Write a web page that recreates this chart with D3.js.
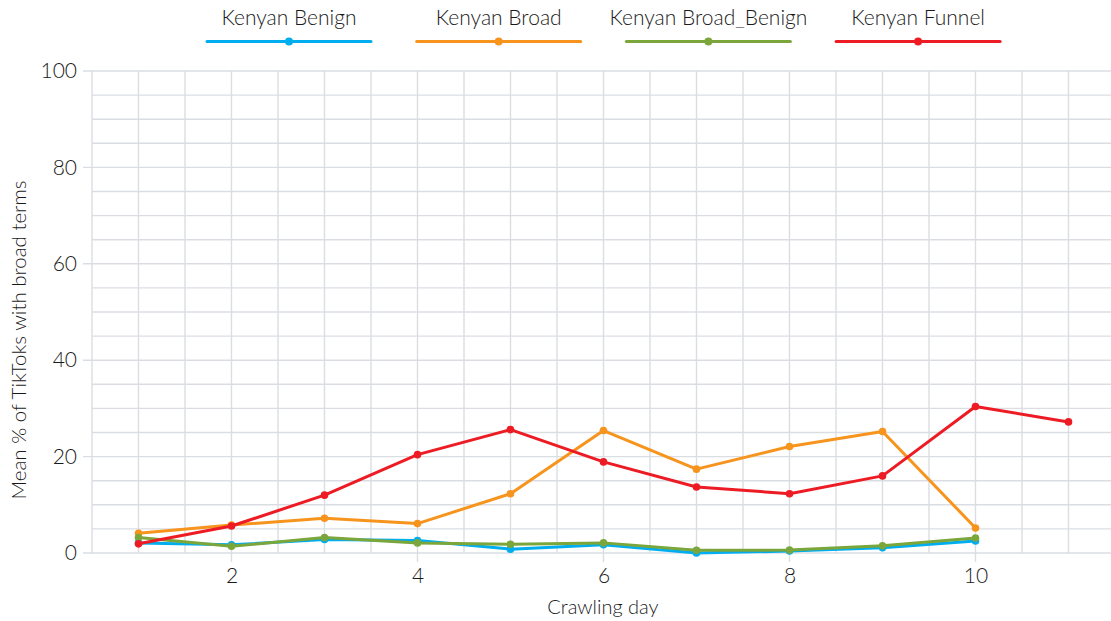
<!DOCTYPE html>
<html>
<head>
<meta charset="utf-8">
<script src="https://cdn.jsdelivr.net/npm/d3@7"></script>
<style>
  body { margin: 0; background: #fff; }
  svg text { font-family: Lato, "Open Sans", sans-serif; font-weight: 300; fill: #1a1a1a; }
</style>
</head>
<body>
<div id="chart"></div>
<script>
// Data
var days = [1, 2, 3, 4, 5, 6, 7, 8, 9, 10, 11];
var seriesNames = ["Kenyan Benign", "Kenyan Broad", "Kenyan Broad_Benign", "Kenyan Funnel"];
var seriesColors = ["#00aeef", "#f7941d", "#7ba63b", "#ed1c24"];
var benign = [2.1, 1.7, 2.8, 2.6, 0.8, 1.7, 0.0, 0.4, 1.1, 2.5];
var broad = [4.1, 5.8, 7.2, 6.1, 12.3, 25.4, 17.4, 22.1, 25.2, 5.2];
var broadBenign = [3.2, 1.4, 3.2, 2.1, 1.8, 2.1, 0.55, 0.6, 1.5, 3.1];
var funnel = [1.9, 5.6, 12.0, 20.4, 25.6, 18.9, 13.7, 12.3, 16.0, 30.4, 27.2];
var xTicks = [2, 4, 6, 8, 10];
var yTicks = [0, 20, 40, 60, 80, 100];

var allSeries = [benign, broad, broadBenign, funnel];

var svgWidth = 1111;
var svgHeight = 621;

var svg = d3.select("#chart")
    .append("svg")
    .attr("width", svgWidth)
    .attr("height", svgHeight);

var xScale = d3.scaleLinear().domain([0.5, 11.5]).range([92, 1115]);
var yScale = d3.scaleLinear().domain([0, 100]).range([553, 71]);

var gridColor = "#dadee3";
var grid = svg.append("g");

// Horizontal grid every 5, majors every 20 poke out to the left
d3.range(0, 101, 5).forEach(function (v) {
    grid.append("line")
        .attr("x1", v % 20 === 0 ? 83 : xScale(0.5))
        .attr("x2", svgWidth)
        .attr("y1", yScale(v))
        .attr("y2", yScale(v))
        .attr("stroke", gridColor)
        .attr("stroke-width", 1.4);
});

// Vertical grid every 0.5 day, even days poke out below
d3.range(0.5, 11.01, 0.5).forEach(function (d) {
    grid.append("line")
        .attr("x1", xScale(d))
        .attr("x2", xScale(d))
        .attr("y1", yScale(100))
        .attr("y2", xTicks.indexOf(d) >= 0 ? yScale(0) + 9 : yScale(0))
        .attr("stroke", gridColor)
        .attr("stroke-width", 1.4);
});

// Axes (labels only, grid drawn above)
var bottomAxis = d3.axisBottom(xScale).tickValues(xTicks).tickSize(0).tickPadding(15);
var leftAxis = d3.axisLeft(yScale).tickValues(yTicks).tickSize(0).tickPadding(15);

var gx = svg.append("g")
    .attr("transform", `translate(0, ${yScale(0)})`)
    .call(bottomAxis);
var gy = svg.append("g")
    .attr("transform", `translate(${xScale(0.5)}, 0)`)
    .call(leftAxis);

[gx, gy].forEach(function (g) {
    g.select(".domain").remove();
    g.selectAll("text")
        .style("font-size", "21px")
        .style("font-family", "Lato, sans-serif")
        .style("font-weight", 300)
        .attr("fill", "#1a1a1a");
});

// Lines and points
var line = d3.line()
    .x((d, i) => xScale(days[i]))
    .y(d => yScale(d));

allSeries.forEach(function (values, s) {
    svg.append("path")
        .datum(values)
        .attr("fill", "none")
        .attr("stroke", seriesColors[s])
        .attr("stroke-width", 3)
        .attr("stroke-linejoin", "round")
        .attr("d", line);

    svg.append("g")
        .selectAll("circle")
        .data(values)
        .enter()
        .append("circle")
        .attr("cx", (d, i) => xScale(days[i]))
        .attr("cy", d => yScale(d))
        .attr("r", 3.8)
        .attr("fill", seriesColors[s]);
});

// Legend
var legend = svg.append("g");
seriesNames.forEach(function (name, i) {
    var cx = 289 + i * 209.7;
    var item = legend.append("g").attr("transform", `translate(${cx}, 0)`);
    item.append("text")
        .attr("x", 0)
        .attr("y", 25)
        .attr("text-anchor", "middle")
        .style("font-size", "21px")
        .text(name);
    item.append("line")
        .attr("x1", -82)
        .attr("x2", 82)
        .attr("y1", 41.5)
        .attr("y2", 41.5)
        .attr("stroke", seriesColors[i])
        .attr("stroke-width", 3)
        .attr("stroke-linecap", "round");
    item.append("circle")
        .attr("cx", 0)
        .attr("cy", 41.5)
        .attr("r", 4)
        .attr("fill", seriesColors[i]);
});

// Axis titles
svg.append("text")
    .attr("x", 603)
    .attr("y", 614)
    .attr("text-anchor", "middle")
    .style("font-size", "20px")
    .text("Crawling day");

svg.append("text")
    .attr("transform", "translate(26, 340) rotate(-90)")
    .attr("text-anchor", "middle")
    .style("font-size", "20.5px")
    .text("Mean % of TikToks with broad terms");
</script>
</body>
</html>
